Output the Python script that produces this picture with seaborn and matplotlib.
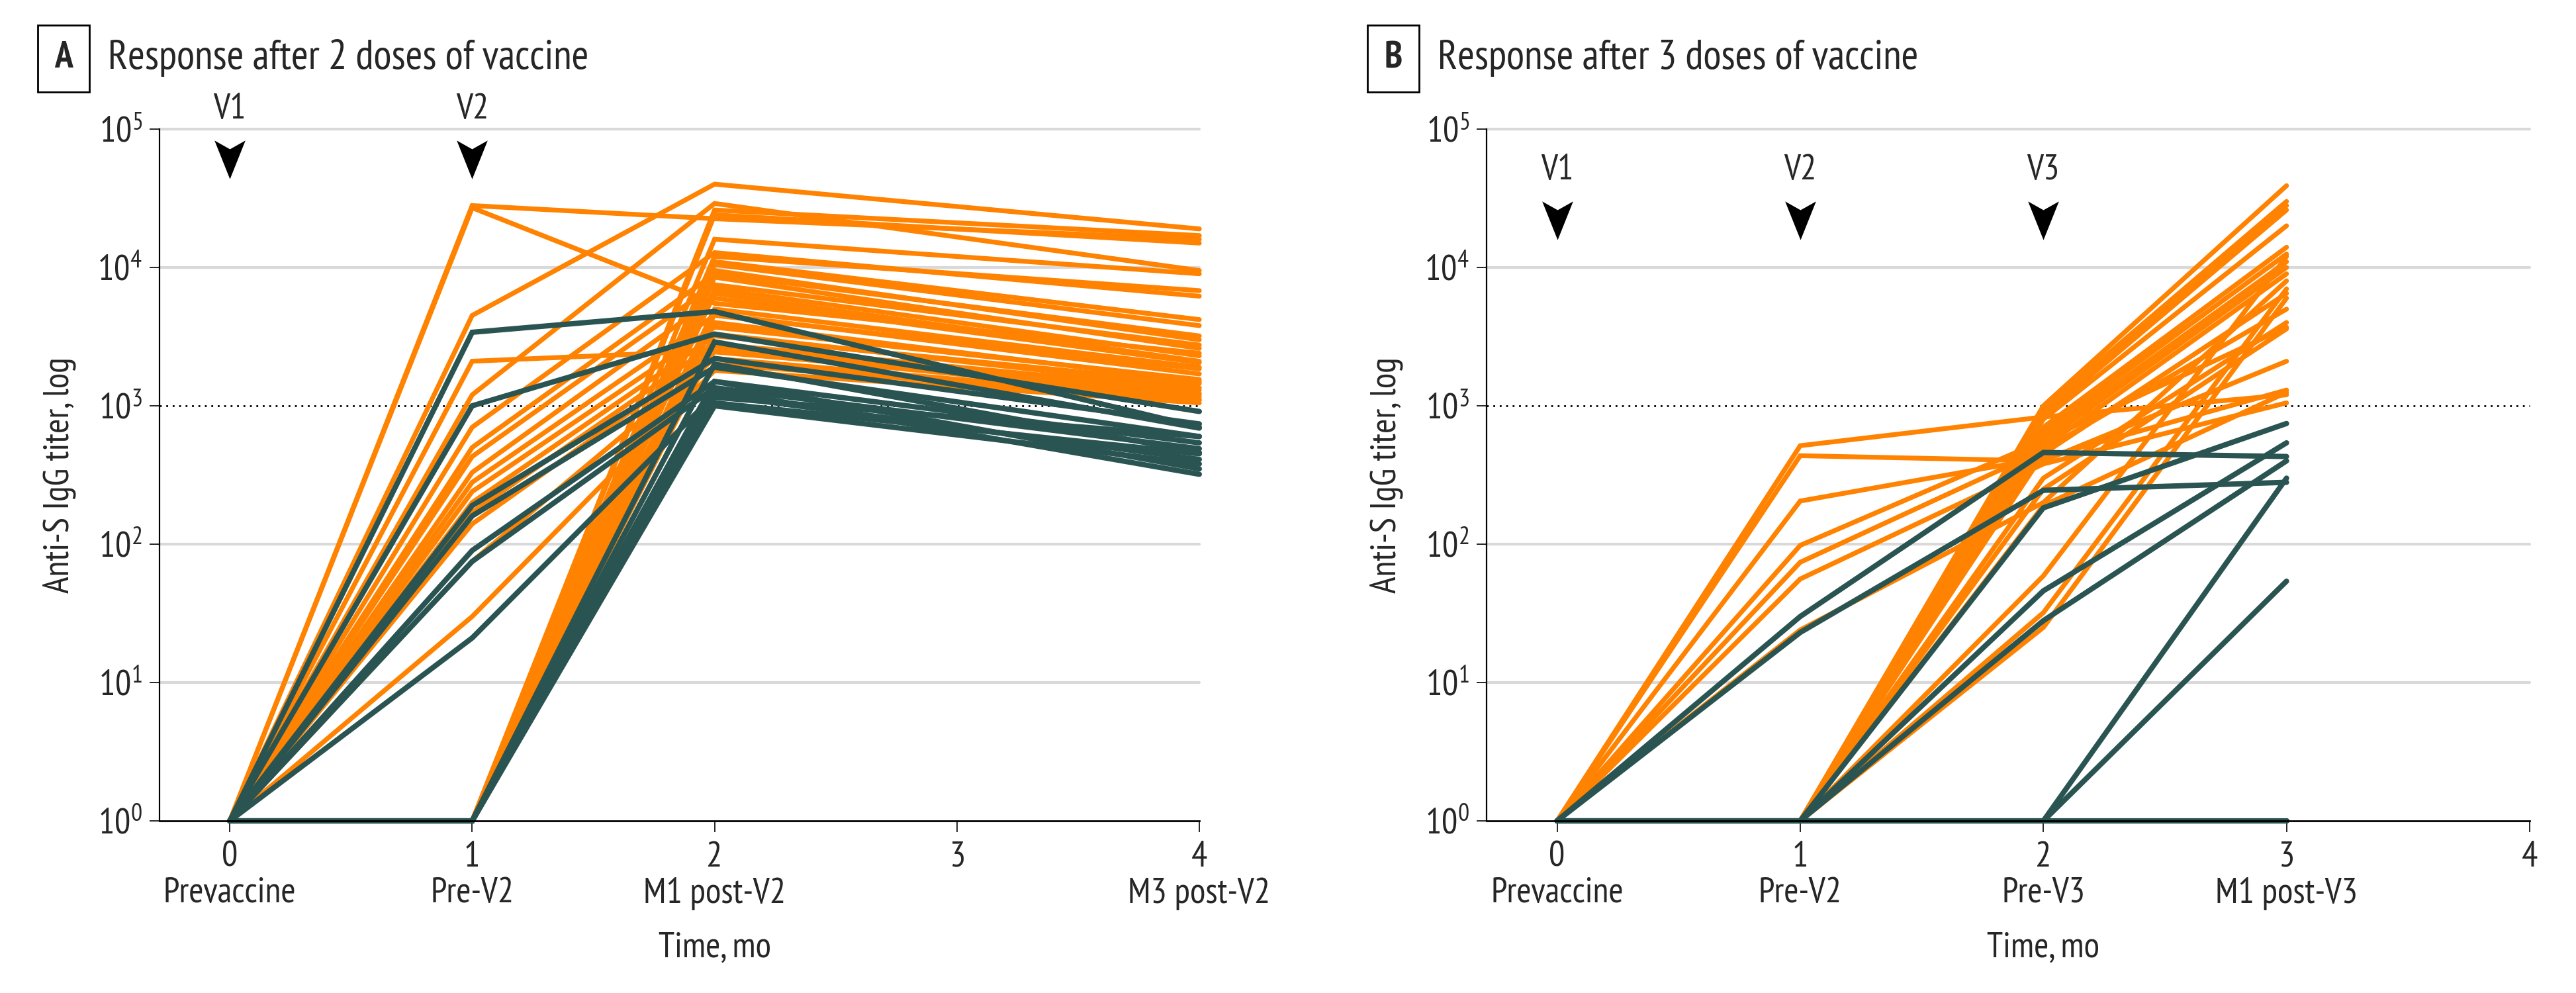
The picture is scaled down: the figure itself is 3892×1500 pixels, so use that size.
import matplotlib
matplotlib.use("Agg")
import numpy as np
import pandas as pd
import matplotlib.pyplot as plt
import seaborn as sns
from matplotlib.path import Path

# =========================
# Data
# =========================
a_times = [0, 1, 2, 4]
a_ticks = [0, 1, 2, 3, 4]
a_ticklabels = ["0\nPrevaccine", "1\nPre-V2", "2\nM1 post-V2", "3\n", "4\nM3 post-V2"]
a_doses = ["V1", "V2"]
a_dose_times = [0, 1]

# rows: prevaccine, pre-V2, M1 post-V2, M3 post-V2
a_orange = [
    [1, 28000, 22500, 16000], [1, 27000, 5500, 2400], [1, 4500, 40000, 19000],
    [1, 2100, 2500, 1150], [1, 1200, 29000, 9500], [1, 700, 12800, 6200],
    [1, 500, 9000, 3200], [1, 430, 7500, 2750], [1, 330, 6000, 2050],
    [1, 280, 4500, 1850], [1, 240, 3700, 1550], [1, 200, 3200, 1450],
    [1, 170, 2800, 1300], [1, 140, 2450, 1230], [1, 75, 2200, 1100],
    [1, 30, 1800, 1050],
    [1, 1, 26000, 17000], [1, 1, 24000, 15000], [1, 1, 16000, 9000],
    [1, 1, 12000, 6800], [1, 1, 11000, 4200], [1, 1, 10500, 3800],
    [1, 1, 9500, 3000], [1, 1, 8500, 2600], [1, 1, 7000, 2300],
    [1, 1, 6500, 2100], [1, 1, 5000, 1900], [1, 1, 4600, 1700],
    [1, 1, 4000, 1500], [1, 1, 3300, 1350], [1, 1, 2700, 1200],
    [1, 1, 2000, 1100],
]
a_teal = [
    [1, 3400, 4800, 700], [1, 1000, 3300, 910], [1, 190, 2200, 740],
    [1, 160, 1900, 600], [1, 90, 1500, 540], [1, 75, 1350, 490],
    [1, 21, 1200, 410],
    [1, 1, 2900, 690], [1, 1, 2000, 460], [1, 1, 1500, 350],
    [1, 1, 1300, 320], [1, 1, 1150, 600], [1, 1, 1050, 450],
    [1, 1, 1000, 380],
]

b_times = [0, 1, 2, 3]
b_ticks = [0, 1, 2, 3, 4]
b_ticklabels = ["0\nPrevaccine", "1\nPre-V2", "2\nPre-V3", "3\nM1 post-V3", "4\n"]
b_doses = ["V1", "V2", "V3"]
b_dose_times = [0, 1, 2]

# rows: prevaccine, pre-V2, pre-V3, M1 post-V3
b_orange = [
    [1, 515, 830, 1200], [1, 436, 400, 2100], [1, 205, 420, 1300],
    [1, 98, 560, 3700], [1, 74, 480, 5000], [1, 56, 380, 1050],
    [1, 24, 200, 8000],
    [1, 1, 1000, 39000], [1, 1, 950, 30000], [1, 1, 900, 28000],
    [1, 1, 850, 26000], [1, 1, 800, 20000], [1, 1, 700, 14000],
    [1, 1, 650, 12500], [1, 1, 600, 11000], [1, 1, 550, 10000],
    [1, 1, 500, 9000], [1, 1, 450, 6500], [1, 1, 300, 4000],
    [1, 1, 250, 3600], [1, 1, 190, 1250], [1, 1, 59, 12000],
    [1, 1, 32, 7000], [1, 1, 25, 6000],
]
b_teal = [
    [1, 30, 460, 430], [1, 23, 245, 280], [1, 1, 183, 745],
    [1, 1, 46, 540], [1, 1, 28, 400], [1, 1, 1, 300],
    [1, 1, 1, 54], [1, 1, 1, 1], [1, 1, 1, 1],
]

ORANGE = "#FF8200"
TEAL = "#2A5452"

# =========================
# Style
# =========================
sns.set_theme(style="white")
FONT = "PT Sans Narrow"
plt.rcParams["font.family"] = [FONT, "DejaVu Sans"]
plt.rcParams["mathtext.fontset"] = "custom"
plt.rcParams["mathtext.rm"] = FONT
plt.rcParams["mathtext.default"] = "regular"

FS = 19.5
DPI = 200


def to_long(rows, times, group):
    recs = []
    for i, row in enumerate(rows):
        for t, v in zip(times, row):
            recs.append({"subject": f"{group}{i}", "time": t, "titer": v})
    return pd.DataFrame(recs)


# dose marker: a notched arrowhead pointing down
arrow = Path([(-0.8, 1), (0, 0.55), (0.8, 1), (0, -1), (-0.8, 1)],
             [Path.MOVETO, Path.LINETO, Path.LINETO, Path.LINETO, Path.CLOSEPOLY])

fig = plt.figure(figsize=(3892 / DPI, 1500 / DPI), dpi=DPI)
ax_a = fig.add_axes([241 / 3892, 1 - 1240 / 1500, 1571 / 3892, 1045 / 1500])
ax_b = fig.add_axes([2246 / 3892, 1 - 1240 / 1500, 1576 / 3892, 1045 / 1500])

panels = [
    (ax_a, a_times, a_orange, a_teal, a_ticks, a_ticklabels, a_doses, a_dose_times, 5.14, 4.78),
    (ax_b, b_times, b_orange, b_teal, b_ticks, b_ticklabels, b_doses, b_dose_times, 4.70, 4.34),
]

for ax, times, orange, teal, ticks, ticklabels, doses, dose_t, ytxt, yarr in panels:
    ax.set_yscale("log")
    for dec in [1, 2, 4, 5]:
        ax.axhline(10 ** dec, color="#d9d9d9", lw=1.5, zorder=0)
    ax.axhline(1000, color="black", lw=1.0, ls=(0, (1, 2.5)), zorder=0)

    sns.lineplot(data=to_long(orange, times, "o"), x="time", y="titer", units="subject",
                 estimator=None, color=ORANGE, lw=2.6, ax=ax, legend=False)
    sns.lineplot(data=to_long(teal, times, "t"), x="time", y="titer", units="subject",
                 estimator=None, color=TEAL, lw=2.9, ax=ax, legend=False)
    for ln in ax.lines:
        ln.set_clip_on(False)
        ln.set_solid_joinstyle("miter")

    for lab, t in zip(doses, dose_t):
        ax.text(t, 10 ** ytxt, lab, ha="center", va="center", fontsize=FS, clip_on=False)
        ax.plot(t, 10 ** yarr, marker=arrow, ms=21, color="black", mew=0, clip_on=False)

    ax.set_xlim(-0.29, 4)
    ax.set_ylim(1, 1e5)
    ax.set_xticks(ticks)
    ax.set_xticklabels(ticklabels, fontsize=FS, linespacing=1.15)
    ax.set_yticks([1, 10, 100, 1000, 1e4, 1e5])
    ax.yaxis.set_minor_locator(matplotlib.ticker.NullLocator())
    ax.tick_params(axis="y", labelsize=FS, length=5.4, width=0.7, pad=4, left=True, direction="out")
    ax.tick_params(axis="x", length=6, width=0.7, pad=5, bottom=True, direction="out")
    for s in ["top", "right"]:
        ax.spines[s].set_visible(False)
    ax.spines["left"].set_linewidth(0.8)
    ax.spines["bottom"].set_linewidth(1.0)
    ax.spines["left"].set_color("black")
    ax.spines["bottom"].set_color("black")
    ax.set_xlabel("Time, mo", fontsize=FS)
    ax.set_ylabel("Anti-S IgG titer, log", fontsize=FS)
    ax.xaxis.set_label_coords((2 + 0.29) / 4.29, -0.16)
    ax.yaxis.set_label_coords(-0.08, 0.5)

# panel titles
for bx, tx, letter, title in [(96, 163, "A", "Response after 2 doses of vaccine"),
                              (2105, 2172, "B", "Response after 3 doses of vaccine")]:
    fig.text(bx / 3892, 1 - 88 / 1500, letter, ha="center", va="center", fontsize=20,
             fontweight="bold",
             bbox=dict(boxstyle="square,pad=0.45", fc="white", ec="black", lw=1.0))
    fig.text(tx / 3892, 1 - 88 / 1500, title, ha="left", va="center", fontsize=22.5)

fig.savefig("out.png", dpi=DPI)
